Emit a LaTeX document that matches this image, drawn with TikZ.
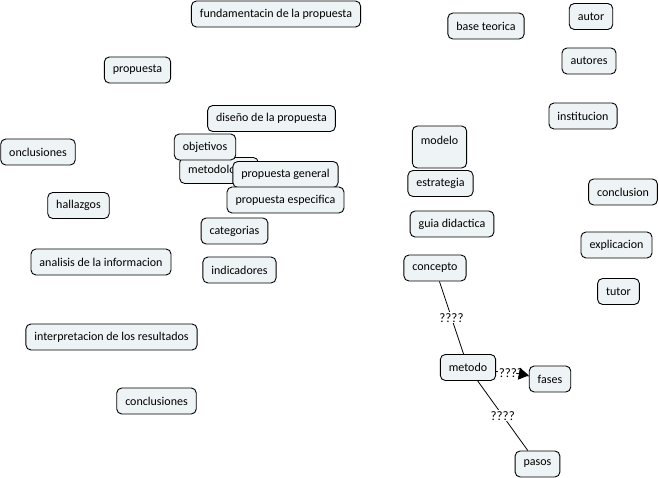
\documentclass[tikz,border=0pt]{standalone}
\usepackage{fontspec}
\setmainfont{Carlito}
\usetikzlibrary{arrows.meta}
\definecolor{boxfill}{HTML}{EEF3F5}
\tikzset{
  cbox/.style={draw=black, line width=0.9pt, fill=boxfill, rounded corners=5pt,
    minimum height=26pt, inner xsep=8.5pt, inner ysep=2pt,
    font=\fontsize{12}{14}\selectfont},
  linklabel/.style={fill=white, inner sep=1pt, font=\fontsize{13}{15}\selectfont},
  conn/.style={draw=black, line width=0.8pt},
  bigtip/.style={-{Triangle[length=10pt,width=12pt]}}
}
\begin{document}
\begin{tikzpicture}[x=1pt,y=-1pt]
\useasboundingbox (0,0) rectangle (659,478);
\node[cbox] (fund) at (276,14) {fundamentacin de la propuesta};
\node[cbox] (prop) at (137.5,70) {propuesta};
\node[cbox] (base) at (486,26) {base teorica};
\node[cbox] (autor) at (591,16.5) {autor};
\node[cbox] (autores) at (589,61) {autores};
\node[cbox] (inst) at (583,116) {institucion};
\node[cbox] (dis) at (271.5,118.5) {diseño de la propuesta};
\node[cbox] (met) at (219,170.5) {metodologia};
\node[cbox] (obj) at (205,147) {objetivos};
\node[cbox] (pgen) at (285.5,174.5) {propuesta general};
\node[cbox] (pesp) at (285.5,200) {propuesta especifica};
\node[cbox] (cat) at (234.5,231) {categorias};
\node[cbox] (ind) at (239.5,270) {indicadores};
\node[cbox] (oncl) at (38,152) {onclusiones};
\node[cbox] (hall) at (78.5,205.5) {hallazgos};
\node[cbox] (anal) at (101,262) {analisis de la informacion};
\node[cbox] (interp) at (111.5,337) {interpretacion de los resultados};
\node[cbox] (concl) at (156.5,401) {conclusiones};
\node[cbox, minimum height=42pt, minimum width=53pt, align=center] (modelo) at (439.5,147) {modelo\\\mbox{}};
\node[cbox] (estr) at (440.5,183.5) {estrategia};
\node[cbox] (guia) at (452,224) {guia didactica};
\node[cbox] (conclusion) at (623,192) {conclusion};
\node[cbox] (expl) at (616.5,245) {explicacion};
\node[cbox] (tutor) at (618.5,291.5) {tutor};
\node[cbox] (concepto) at (435,268) {concepto};
\node[cbox] (metodo) at (468,367.5) {metodo};
\node[cbox] (fases) at (550,379) {fases};
\node[cbox] (pasos) at (537.5,464) {pasos};
\draw[conn] (concepto) -- node[linklabel] {????} (metodo);
\draw[conn] (metodo) -- node[linklabel, pos=0.45] {????} (fases);
\coordinate (ahs) at (516,373.2);
\draw[conn, bigtip] (ahs) -- (fases);
\draw[conn] (metodo) -- node[linklabel] {????} (pasos);
\end{tikzpicture}
\end{document}
